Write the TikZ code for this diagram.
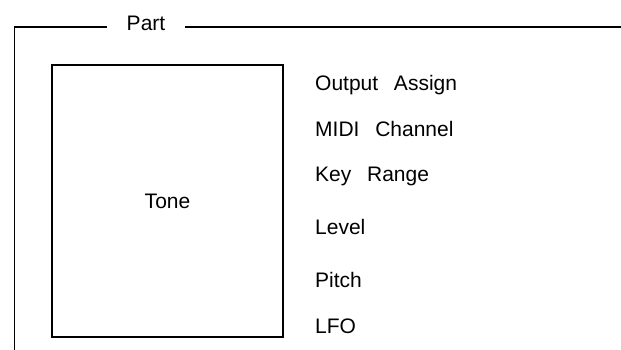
\documentclass[tikz,border=0pt]{standalone}
\usepackage{fontspec}
\setmainfont{Liberation Sans}
\begin{document}
\begin{tikzpicture}[x=1pt,y=-1pt,
  frame/.style={line width=1.3pt, black},
  lbl/.style={font=\fontsize{21}{25}\selectfont, inner sep=0pt, anchor=base west},
  ttl/.style={font=\fontsize{21}{25}\selectfont, inner xsep=20pt, inner ysep=0pt},
]
\useasboundingbox (0,0) rectangle (621,350);
% outer frame
\coordinate (bl) at (14.5,350);
\coordinate (tl) at (14.5,27);
\coordinate (tr) at (621,27);
\node[ttl] (part) at (146,23.5) {Part};
\draw[frame] (bl) -- (tl) -- (part.west |- tl);
\draw[frame] (part.east |- tr) -- (tr);
% inner box
\node[draw, line width=1.3pt, minimum width=231pt, minimum height=272pt, inner sep=0pt,
      font=\fontsize{21}{25}\selectfont] (tone) at (167.5,201) {Tone};
% labels
\node[lbl] (oa) at (315,91) {Output\hspace{0.75em}Assign};
\node[lbl] (mc) at (315,137) {MIDI\hspace{0.75em}Channel};
\node[lbl] (kr) at (315,182) {Key\hspace{0.75em}Range};
\node[lbl] (lv) at (315,234) {Level};
\node[lbl] (pi) at (315,287) {Pitch};
\node[lbl] (lf) at (315,333) {LFO};
\end{tikzpicture}
\end{document}
